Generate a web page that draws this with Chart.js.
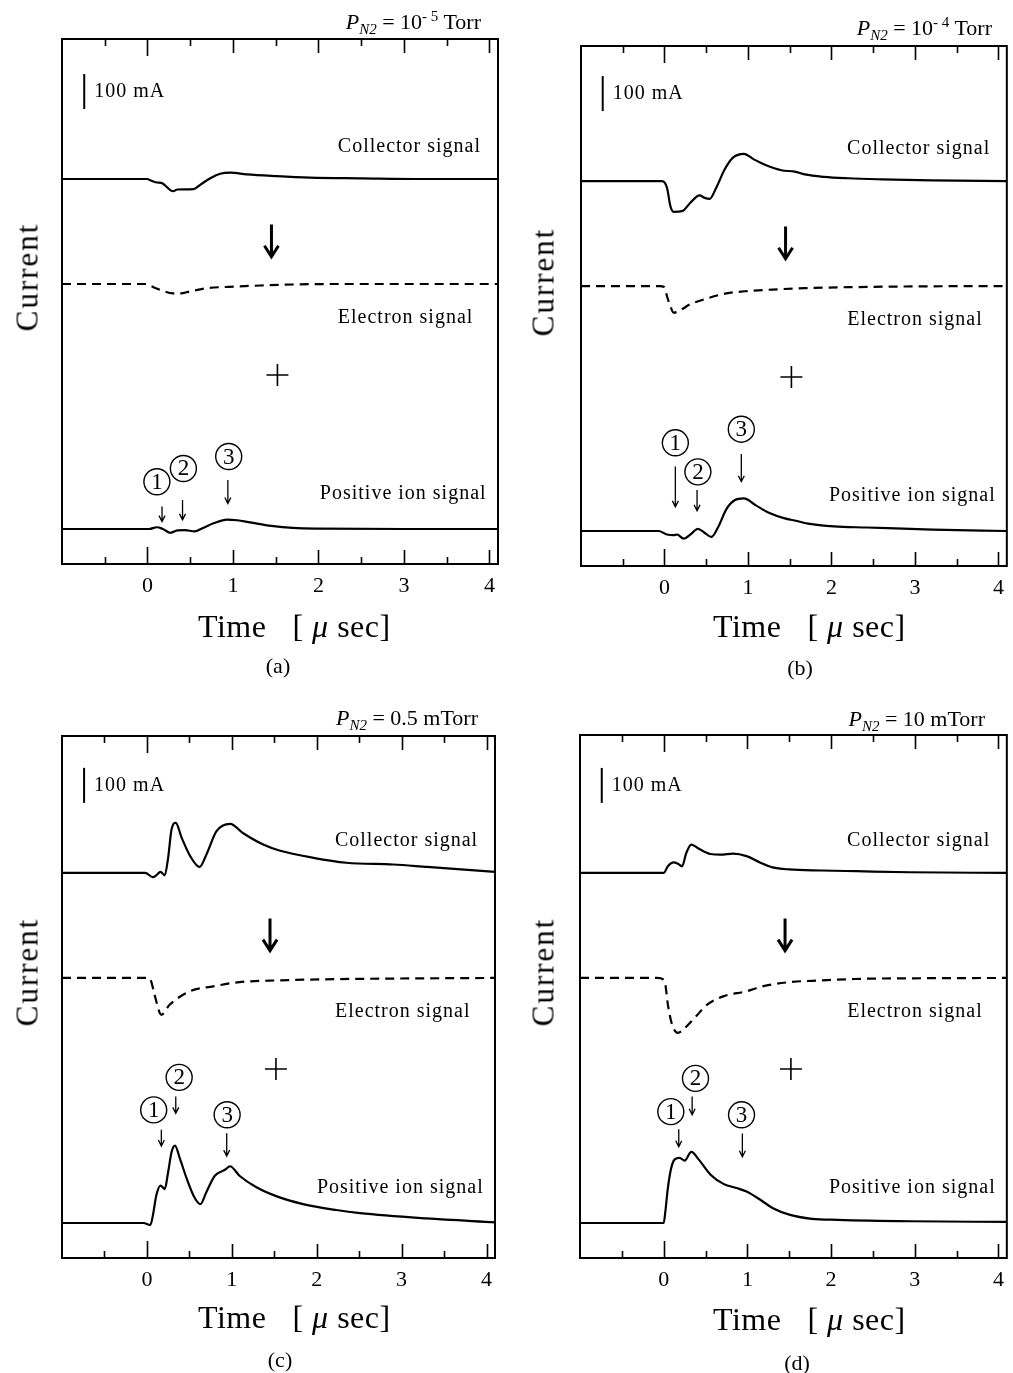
<!DOCTYPE html>
<html>
<head>
<meta charset="utf-8">
<script src="https://cdn.jsdelivr.net/npm/chart.js@4.4.1/dist/chart.umd.min.js"></script>
<style>
  html, body { margin: 0; padding: 0; background: #fff; }
  #page { position: relative; width: 1013px; height: 1373px; overflow: hidden; font-family: "Liberation Serif", serif; color: #000; }
  canvas { position: absolute; }
  .lbl { position: absolute; line-height: 1; white-space: nowrap; }
  .ytitle { font-size: 31px; letter-spacing: 2px; transform: translate(-50%, -50%) rotate(-90deg); }
  .xtitle { font-size: 32px; letter-spacing: 0.5px; }
  .tag { font-size: 22px; transform: translateX(-50%); }
  .press { font-size: 22px; transform: translateX(-100%); }
  .press sub, .press sup { font-size: 15px; line-height: 0; }
</style>
</head>
<body>
<div id="page"></div>
<script>
// time axis (µs)
const tickValues = [0, 1, 2, 3, 4];
const majorTicks = [0, 1, 2, 3, 4];
const minorTicks = [-0.5, 0.5, 1.5, 2.5, 3.5];

// vertical offsets (mA) of the three stacked traces
const baseline = { collector: 1100, electron: 800, ion: 100 };

// traces as [time µs, current mA relative to baseline]
// (a) 1e-5 Torr
const collectorA = [[-1,0],[0,0],[0.02,-2],[0.11,-10],[0.16,-11],[0.3,-35],[0.35,-30],[0.54,-29],[0.62,-16],[0.74,3],[0.85,15],[0.97,18],[1.16,13],[1.51,8],[1.9,4],[2.5,2],[3.2,0],[4.1,0]];
const electronA = [[-1,0],[-0.02,0],[0.03,-5],[0.15,-17],[0.3,-27],[0.38,-27],[0.5,-21],[0.7,-12],[0.95,-8],[1.25,-5],[1.6,-2],[2.2,0],[4.1,0]];
const ionA = [[-1,0],[0.02,0],[0.11,5],[0.18,0],[0.27,-11],[0.35,-4],[0.44,-3],[0.55,-7],[0.65,3],[0.78,17],[0.93,27],[1.05,25],[1.2,19],[1.45,9],[1.7,3],[2.0,1],[3.0,0],[4.1,0]];

// (b) 1e-4 Torr
const collectorB = [[-1,0],[-0.03,0],[0.03,-19],[0.07,-71],[0.11,-88],[0.21,-86],[0.31,-62],[0.42,-41],[0.48,-48],[0.54,-51],[0.62,-19],[0.72,33],[0.82,67],[0.95,78],[1.07,62],[1.21,46],[1.4,31],[1.56,27],[1.68,19],[1.91,12],[2.2,8],[2.6,5],[3.2,2],[4.1,0]];
const electronB = [[-1,0],[-0.06,0],[0,-3],[0.03,-29],[0.07,-57],[0.11,-76],[0.31,-52],[0.5,-36],[0.74,-21],[1.01,-14],[1.29,-10],[1.68,-6],[2.27,-3],[3.0,-1],[4.1,0]];
const ionB = [[-1,0],[-0.07,0],[0.03,-10],[0.11,-12],[0.15,-10],[0.23,-22],[0.31,-10],[0.4,6],[0.48,-5],[0.56,-17],[0.64,10],[0.74,62],[0.84,88],[0.95,93],[1.09,74],[1.25,52],[1.44,36],[1.56,30],[1.72,21],[2.03,13],[2.42,10],[3.21,4],[4.1,0]];

// (c) 0.5 mTorr
const collectorC = [[-1,0],[-0.02,0],[0.07,-12],[0.11,-7],[0.16,3],[0.21,-7],[0.25,43],[0.29,124],[0.34,143],[0.41,100],[0.51,48],[0.62,17],[0.7,52],[0.82,119],[0.98,140],[1.13,114],[1.37,81],[1.56,64],[1.96,43],[2.35,29],[2.9,24],[3.3,17],[4.1,3]];
const electronC = [[-1,0],[0.02,0],[0.05,-10],[0.09,-48],[0.17,-105],[0.27,-76],[0.51,-38],[0.78,-24],[1.09,-12],[1.56,-7],[2.1,-4],[2.8,-2],[4.1,0]];
const ionC = [[-1,0],[-0.04,0],[0.04,-6],[0.07,21],[0.11,78],[0.16,107],[0.21,97],[0.25,145],[0.29,202],[0.33,221],[0.39,183],[0.47,126],[0.56,73],[0.63,54],[0.7,88],[0.8,135],[0.92,152],[0.98,162],[1.09,135],[1.29,102],[1.53,76],[1.84,54],[2.23,37],[2.51,28],[3.29,13],[4.1,2]];

// (d) 10 mTorr
const collectorD = [[-1,0],[0,0],[0.05,19],[0.12,30],[0.17,26],[0.22,19],[0.27,57],[0.33,81],[0.42,69],[0.56,54],[0.68,52],[0.83,55],[0.99,48],[1.15,30],[1.3,16],[1.5,10],[1.89,7],[2.3,5],[2.94,2],[4.1,0]];
const electronD = [[-1,0],[-0.08,0],[0,-5],[0.02,-19],[0.05,-76],[0.1,-133],[0.17,-157],[0.23,-148],[0.37,-114],[0.52,-76],[0.72,-52],[0.99,-38],[1.18,-24],[1.5,-12],[1.89,-7],[2.28,-3],[3.0,-1],[4.1,0]];
const ionD = [[-1,0],[0,0],[0.02,33],[0.05,100],[0.09,157],[0.13,181],[0.19,186],[0.25,178],[0.33,203],[0.42,181],[0.56,138],[0.72,111],[0.87,100],[0.99,90],[1.15,67],[1.3,43],[1.5,24],[1.77,12],[2.08,9],[2.94,5],[4.1,3]];

// panel layout: frame = [left, top, right, bottom] in page pixels
const panels = [
  { tag: '(a)', frame: [62, 39, 498, 564], padR: 8, yMax: 1500,
    traces: [collectorA, electronA, ionA],
    pressure: '<i>P</i><sub><i>N2</i></sub> = 10<sup>- 5</sup> Torr',
    pressAt: [481, 29], timeAt: [198, 637], tagAt: [278, 673], curAt: [27, 277],
    marks: [
      { n: '1', c: [0.11, 235], arrow: [0.17, 164, 121] },
      { n: '2', c: [0.42, 273], arrow: [0.41, 183, 126] },
      { n: '3', c: [0.95, 307], arrow: [0.94, 240, 173] } ] },
  { tag: '(b)', frame: [581, 46, 1012, 566], padR: 1, yMax: 1486,
    traces: [collectorB, electronB, ionB],
    pressure: '<i>P</i><sub><i>N2</i></sub> = 10<sup>- 4</sup> Torr',
    pressAt: [992, 35], timeAt: [713, 637], tagAt: [800, 675], curAt: [543, 282],
    marks: [
      { n: '1', c: [0.13, 352], arrow: [0.13, 284, 169] },
      { n: '2', c: [0.40, 269], arrow: [0.39, 217, 158] },
      { n: '3', c: [0.92, 391], arrow: [0.92, 320, 241] } ] },
  { tag: '(c)', frame: [62, 736, 495, 1258], padR: 10, yMax: 1491,
    traces: [collectorC, electronC, ionC],
    pressure: '<i>P</i><sub><i>N2</i></sub> = 0.5 mTorr',
    pressAt: [478, 725], timeAt: [198, 1328], tagAt: [280, 1367], curAt: [27, 972],
    marks: [
      { n: '1', c: [0.08, 423], arrow: [0.17, 366, 320] },
      { n: '2', c: [0.38, 516], arrow: [0.34, 461, 413] },
      { n: '3', c: [0.945, 409], arrow: [0.94, 356, 291] } ] },
  { tag: '(d)', frame: [580, 735, 1011, 1258], padR: 2, yMax: 1494,
    traces: [collectorD, electronD, ionD],
    pressure: '<i>P</i><sub><i>N2</i></sub> = 10 mTorr',
    pressAt: [985, 726], timeAt: [713, 1330], tagAt: [797, 1370], curAt: [543, 972],
    marks: [
      { n: '1', c: [0.085, 418], arrow: [0.18, 368, 318] },
      { n: '2', c: [0.38, 513], arrow: [0.34, 461, 409] },
      { n: '3', c: [0.93, 409], arrow: [0.94, 356, 289] } ] }
];

const SERIF = '"Liberation Serif", "Times New Roman", serif';

function trace(points, base, dashed) {
  return {
    data: points.map(([t, v]) => ({ x: t, y: base + v })),
    borderColor: '#000',
    borderWidth: 2.2,
    borderDash: dashed ? [9, 6] : [],
    pointRadius: 0,
    cubicInterpolationMode: 'monotone',
    fill: false
  };
}

function arrowDown(ctx, x, yTop, yTip, head, w) {
  ctx.beginPath();
  ctx.moveTo(x, yTop);
  ctx.lineTo(x, yTip);
  ctx.moveTo(x - w, yTip - head);
  ctx.lineTo(x, yTip);
  ctx.lineTo(x + w, yTip - head);
  ctx.stroke();
}

// frame, inward ticks and the in-plot annotations
const panelDecor = {
  id: 'panelDecor',
  afterDatasetsDraw(chart, args, opts) {
    const { ctx, chartArea: a, scales: { x, y } } = chart;
    ctx.save();
    ctx.strokeStyle = '#000';
    ctx.fillStyle = '#000';
    ctx.lineCap = 'butt';

    ctx.lineWidth = 2;
    ctx.strokeRect(a.left, a.top, a.right - a.left, a.bottom - a.top);

    ctx.lineWidth = 1.6;
    const tick = (v, len) => {
      const px = Math.round(x.getPixelForValue(v)) + 0.5;
      ctx.beginPath();
      ctx.moveTo(px, a.bottom); ctx.lineTo(px, a.bottom - len);
      ctx.moveTo(px, a.top); ctx.lineTo(px, a.top + len);
      ctx.stroke();
    };
    majorTicks.forEach(v => tick(v, v === 0 ? 17 : 14));
    minorTicks.forEach(v => tick(v, 7));

    // 100 mA scale bar
    const sx = x.getPixelForValue(-0.74);
    ctx.lineWidth = 2;
    ctx.beginPath();
    ctx.moveTo(sx, y.getPixelForValue(1300));
    ctx.lineTo(sx, y.getPixelForValue(1400));
    ctx.stroke();

    ctx.textBaseline = 'middle';
    ctx.font = '20px ' + SERIF;
    ctx.letterSpacing = '1px';
    ctx.textAlign = 'left';
    ctx.fillText('100 mA', sx + 10, y.getPixelForValue(1350));

    ctx.textAlign = 'right';
    ctx.fillText('Collector signal', x.getPixelForValue(3.89) + 1, y.getPixelForValue(1193));
    ctx.fillText('Electron signal', x.getPixelForValue(3.80) + 1, y.getPixelForValue(703));
    ctx.fillText('Positive ion signal', x.getPixelForValue(3.955) + 1, y.getPixelForValue(200));
    ctx.letterSpacing = '0px';

    // bold arrow between collector and electron traces
    ctx.lineWidth = 3;
    ctx.lineJoin = 'miter';
    arrowDown(ctx, x.getPixelForValue(1.45), y.getPixelForValue(970), y.getPixelForValue(878), 11, 7);

    // plus sign
    const px = x.getPixelForValue(1.52), py = y.getPixelForValue(540);
    ctx.lineWidth = 1.6;
    ctx.beginPath();
    ctx.moveTo(px - 11, py); ctx.lineTo(px + 11, py);
    ctx.moveTo(px, py - 11); ctx.lineTo(px, py + 11);
    ctx.stroke();

    // numbered peaks
    ctx.textAlign = 'center';
    ctx.font = '23px ' + SERIF;
    opts.marks.forEach(m => {
      const cx = x.getPixelForValue(m.c[0]), cy = y.getPixelForValue(m.c[1]);
      ctx.lineWidth = 1.4;
      ctx.beginPath();
      ctx.arc(cx, cy, 13, 0, Math.PI * 2);
      ctx.stroke();
      ctx.fillText(m.n, cx, cy + 1);
      const [at, y1, y2] = m.arrow;
      ctx.lineWidth = 1.3;
      arrowDown(ctx, x.getPixelForValue(at), y.getPixelForValue(y1), y.getPixelForValue(y2), 6, 3);
    });
    ctx.restore();
  }
};

const page = document.getElementById('page');

function addLabel(cls, html, left, top) {
  const el = document.createElement('div');
  el.className = 'lbl ' + cls;
  el.innerHTML = html;
  el.style.left = left + 'px';
  el.style.top = top + 'px';
  page.appendChild(el);
  return el;
}

panels.forEach(p => {
  const [L, T, R, B] = p.frame;
  const canvas = document.createElement('canvas');
  const w = R - L + 62 + p.padR, h = B - T + 40 + 45;
  canvas.width = w; canvas.height = h;
  canvas.style.left = (L - 62) + 'px';
  canvas.style.top = (T - 40) + 'px';
  canvas.style.width = w + 'px';
  canvas.style.height = h + 'px';
  page.appendChild(canvas);

  new Chart(canvas, {
    type: 'line',
    data: {
      datasets: [
        trace(p.traces[0], baseline.collector, false),
        trace(p.traces[1], baseline.electron, true),
        trace(p.traces[2], baseline.ion, false)
      ]
    },
    options: {
      responsive: false,
      animation: false,
      devicePixelRatio: 1,
      layout: { padding: { left: 62, top: 40, right: p.padR, bottom: 0 } },
      plugins: {
        legend: { display: false },
        tooltip: { enabled: false },
        panelDecor: { marks: p.marks }
      },
      scales: {
        x: {
          type: 'linear', min: -1, max: 4.1,
          grid: { display: false, drawTicks: false },
          border: { display: false },
          afterBuildTicks: s => { s.ticks = tickValues.map(v => ({ value: v })); },
          afterFit: s => { s.height = 45; },
          ticks: { padding: 9, color: '#000', autoSkip: false, maxRotation: 0,
                   font: { family: SERIF, size: 22 } }
        },
        y: { display: false, min: 0, max: p.yMax }
      }
    },
    plugins: [panelDecor]
  });

  addLabel('press', p.pressure, p.pressAt[0], p.pressAt[1] - 18);
  addLabel('xtitle', 'Time<span style="margin-left:26px">[ <i>μ</i> sec]</span>', p.timeAt[0], p.timeAt[1] - 27);
  addLabel('tag', p.tag, p.tagAt[0], p.tagAt[1] - 18);
  addLabel('ytitle', 'Current', p.curAt[0], p.curAt[1]);
});
</script>
</body>
</html>
